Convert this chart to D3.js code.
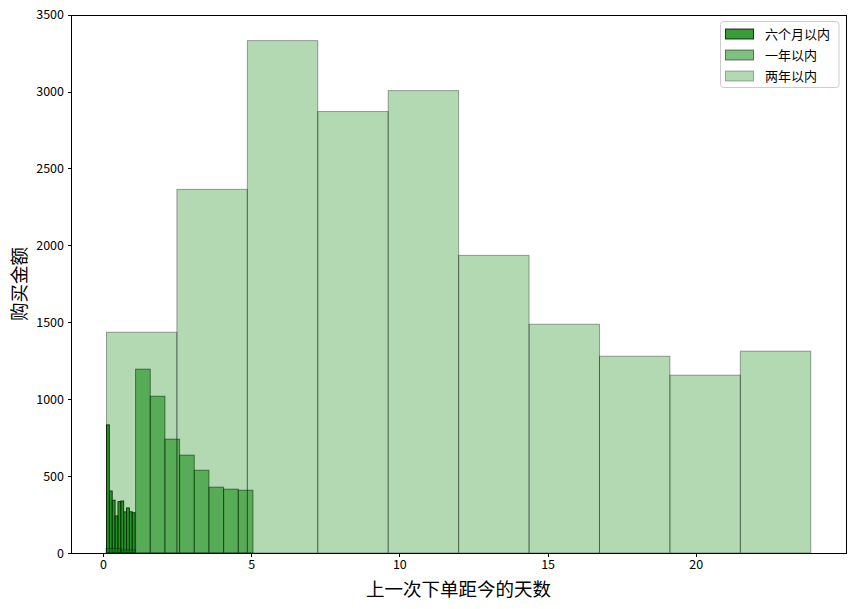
<!DOCTYPE html>
<html><head><meta charset="utf-8">
<script src="https://cdn.jsdelivr.net/npm/d3@7"></script>
<style>
body{margin:0;background:#fff;}
text{font-family:"Noto Sans CJK SC","DejaVu Sans",sans-serif;}
</style></head>
<body><svg id="c" width="855" height="609"></svg>
<script>
// Data (bar heights per bin)
const seriesNames = ["六个月以内", "一年以内", "两年以内"];
const sixMonths = [833, 403, 343, 241, 334, 338, 267, 293, 268, 262];
const oneYear   = [30, 20, 1195, 1019, 740, 636, 538, 428, 415, 408];
const twoYears  = [1435, 2364, 3331, 2870, 3006, 1935, 1487, 1279, 1156, 1312];
const binRanges = [[0.12, 1.085], [0.11, 5.06], [0.118, 23.88]];
const alphas = [0.78, 0.5, 0.3];
const xTicks = [0, 5, 10, 15, 20];
const yTicks = [0, 500, 1000, 1500, 2000, 2500, 3000, 3500];
const xLabel = "上一次下单距今的天数";
const yLabel = "购买金额";

const svg = d3.select("#c");
const L = 71, R = 846, T = 15, B = 553;
const allVals = [sixMonths, oneYear, twoYears];
const dataMin = d3.min(binRanges, r => r[0]), dataMax = d3.max(binRanges, r => r[1]);
const pad = (dataMax - dataMin) * 0.05;
const x = d3.scaleLinear().domain([dataMin - pad, dataMax + pad]).range([L, R]);
const yMax = d3.max(allVals.flat()) * 1.05;
const y = d3.scaleLinear().domain([0, yMax]).range([B, T]);

const g = svg.append("g");
allVals.forEach((vals, si) => {
  const [a, b] = binRanges[si];
  const w = (b - a) / vals.length;
  g.selectAll(null).data(vals).enter().append("rect")
    .attr("x", (d, i) => x(a + i * w))
    .attr("width", (d, i) => x(a + (i + 1) * w) - x(a + i * w))
    .attr("y", d => y(d))
    .attr("height", d => y(0) - y(d))
    .attr("fill", "#008000").attr("fill-opacity", alphas[si])
    .attr("stroke", "#000").attr("stroke-opacity", alphas[si] + 0.05).attr("stroke-width", 1);
});

// frame
svg.append("rect").attr("x", L).attr("y", T).attr("width", R - L).attr("height", B - T)
  .attr("fill", "none").attr("stroke", "#000").attr("stroke-width", 1)
  .attr("shape-rendering", "crispEdges");

const xAxis = svg.append("g").attr("transform", `translate(0,${B})`)
  .call(d3.axisBottom(x).tickValues(xTicks).tickFormat(d3.format("d")).tickSize(3.5).tickSizeOuter(0).tickPadding(3.5));
const yAxis = svg.append("g").attr("transform", `translate(${L},0)`)
  .call(d3.axisLeft(y).tickValues(yTicks).tickFormat(d3.format("d")).tickSize(3.5).tickSizeOuter(0).tickPadding(3.5));
[xAxis, yAxis].forEach(ax => {
  ax.select(".domain").remove();
  ax.selectAll("text").attr("font-size", 12.5).attr("fill", "#000")
    .style("font-family", '"Noto Sans CJK SC",sans-serif');
  ax.selectAll("line").attr("stroke", "#000").attr("shape-rendering", "crispEdges");
});

svg.append("text").attr("x", (L + R) / 2).attr("y", 596).attr("text-anchor", "middle")
  .attr("font-size", 18.5).text(xLabel);
svg.append("text").attr("transform", `translate(26,${(T + B) / 2}) rotate(-90)`)
  .attr("text-anchor", "middle").attr("font-size", 18.5).text(yLabel);

// legend
const lg = svg.append("g");
lg.append("rect").attr("x", 720.5).attr("y", 21.5).attr("width", 118.5).attr("height", 66)
  .attr("rx", 3).attr("fill", "#fff").attr("fill-opacity", 0.8).attr("stroke", "#ccc");
seriesNames.forEach((n, i) => {
  const cy = 34 + i * 21;
  lg.append("rect").attr("x", 725.5).attr("y", cy - 5).attr("width", 28).attr("height", 10)
    .attr("fill", "#008000").attr("fill-opacity", alphas[i])
    .attr("stroke", "#000").attr("stroke-opacity", alphas[i]);
  lg.append("text").attr("x", 765).attr("y", cy + 4.5).attr("font-size", 13).text(n);
});
</script></body></html>
